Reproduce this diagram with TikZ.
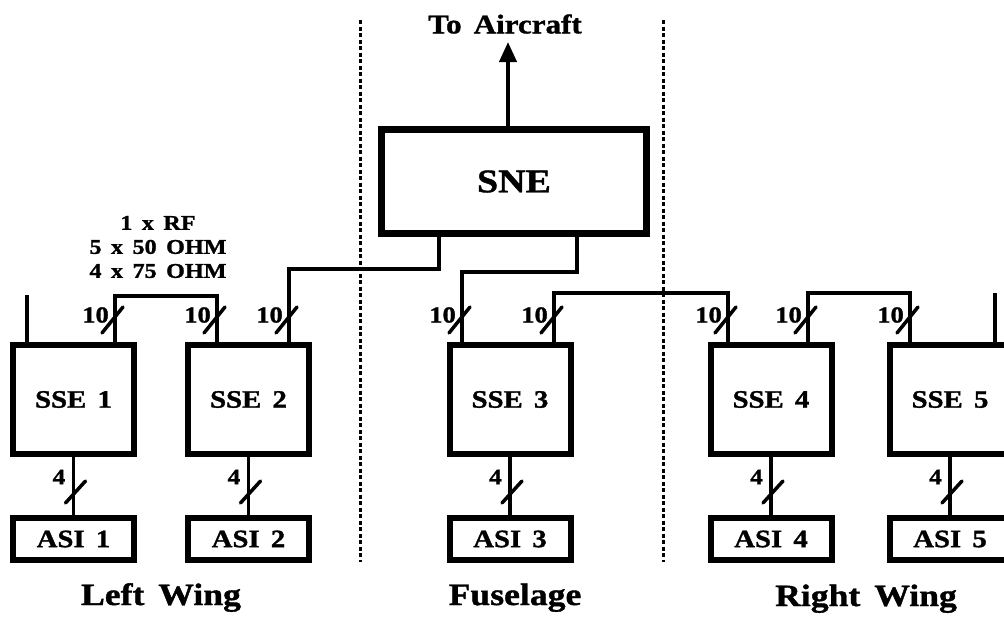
\documentclass[tikz,border=0pt]{standalone}
\usepackage{fontspec}
\setmainfont{Liberation Serif}[FakeStretch=1.15,FakeBold=1.2]
\usetikzlibrary{arrows.meta}
\newcommand{\wgap}{\hspace{0.45em}}
\begin{document}
\begin{tikzpicture}[x=1pt,y=-1pt,
  ssebox/.style={draw, line width=6pt, rectangle, inner sep=0pt,
    minimum width=121pt, minimum height=109pt,
    font=\bfseries\fontsize{25}{28}\selectfont},
  asibox/.style={draw, line width=6pt, rectangle, inner sep=0pt,
    minimum width=121pt, minimum height=42pt,
    font=\bfseries\fontsize{25}{28}\selectfont},
  snebox/.style={draw, line width=7pt, rectangle, inner sep=0pt,
    minimum width=265pt, minimum height=104pt,
    font=\bfseries\fontsize{33}{36}\selectfont},
  wire/.style={line width=3.5pt},
  slash/.style={line width=3.5pt, line cap=round},
  divider/.style={line width=3pt, dash pattern=on 4pt off 2.5pt},
  cnt/.style={inner sep=0pt, font=\bfseries\fontsize{21}{24}\selectfont},
  cnt10/.style={inner sep=0pt, font=\bfseries\fontsize{23}{26}\selectfont},
  cnt4/.style={inner sep=0pt, font=\bfseries\fontsize{22}{24}\selectfont},
  region/.style={inner sep=0pt, anchor=base, font=\bfseries\fontsize{31}{36}\selectfont},
]
\useasboundingbox (0,0) rectangle (1004,624);
\clip (0,0) rectangle (1004,624);

% dividers
\coordinate (dl1) at (360,20); \coordinate (dl2) at (360,562);
\coordinate (dr1) at (663,20); \coordinate (dr2) at (663,562);
\draw[divider] (dl1) -- (dl2);
\draw[divider] (dr1) -- (dr2);

% SNE
\node[snebox] (sne) at (514,181.5) {SNE};
\coordinate (air) at (508,42);
\draw[line width=4pt, -{Triangle[width=17pt,length=20pt]}] (sne.north -| air) -- (air);
\node[inner sep=0pt, font=\bfseries\fontsize{27}{30}\selectfont] (toair) at (505,24) {To\wgap Aircraft};

% SSE boxes
\node[ssebox] (sse1) at (73.5,399.5) {SSE\wgap 1};
\node[ssebox] (sse2) at (248.5,399.5) {SSE\wgap 2};
\node[ssebox] (sse3) at (510,399.5) {SSE\wgap 3};
\node[ssebox] (sse4) at (771,399.5) {SSE\wgap 4};
\node[ssebox] (sse5) at (950,399.5) {SSE\wgap 5};

% ASI boxes
\node[asibox] (asi1) at (73.5,539) {ASI\wgap 1};
\node[asibox] (asi2) at (248.5,539) {ASI\wgap 2};
\node[asibox] (asi3) at (510,539) {ASI\wgap 3};
\node[asibox] (asi4) at (771,539) {ASI\wgap 4};
\node[asibox] (asi5) at (950,539) {ASI\wgap 5};

% top wiring
\coordinate (s1) at (27,295);
\coordinate (j1) at (115,296); \coordinate (j2) at (217,296);
\coordinate (a1) at (439,269); \coordinate (a2) at (289,269);
\coordinate (b1) at (577,272); \coordinate (b2) at (462,272);
\coordinate (c1) at (554,293); \coordinate (c2) at (728,293);
\coordinate (d1) at (808,293); \coordinate (d2) at (910,293);
\coordinate (s5) at (995,293);

\draw[wire] (sse1.north -| s1) -- (s1);
\draw[wire] (sse1.north -| j1) -- (j1) -- (j2) -- (sse2.north -| j2);
\draw[wire] (sne.south -| a1) -- (a1) -- (a2) -- (sse2.north -| a2);
\draw[wire] (sne.south -| b1) -- (b1) -- (b2) -- (sse3.north -| b2);
\draw[wire] (sse3.north -| c1) -- (c1) -- (c2) -- (sse4.north -| c2);
\draw[wire] (sse4.north -| d1) -- (d1) -- (d2) -- (sse5.north -| d2);
\draw[wire] (sse5.north -| s5) -- (s5);

% bundle marks on top wiring
\foreach \L in {115,217,289,462,554,728,808,910}{
  \draw[slash] ({\L-13},333) -- ({\L+8},307);
  \node[cnt10, anchor=east] (n\L) at ({\L-6},315) {10};
}

% cable description
\node[cnt, align=center] (desc) at (158,247) {1\wgap x\wgap RF\\5\wgap x\wgap 50\wgap OHM\\4\wgap x\wgap 75\wgap OHM};

% SSE to ASI
\foreach \i in {1,...,5}{
  \draw[wire] (sse\i.south) -- (asi\i.north);
}
\foreach \X in {73.5,248.5,510,771,950}{
  \draw[slash] ({\X-8},503) -- ({\X+12},481);
  \node[cnt4, anchor=east] at ({\X-8},477) {4};
}

% region labels
\node[region] (lw) at (161,605) {Left\wgap Wing};
\node[region] (fu) at (515,605) {Fuselage};
\node[region] (rw) at (866,606) {Right\wgap Wing};
\end{tikzpicture}
\end{document}
